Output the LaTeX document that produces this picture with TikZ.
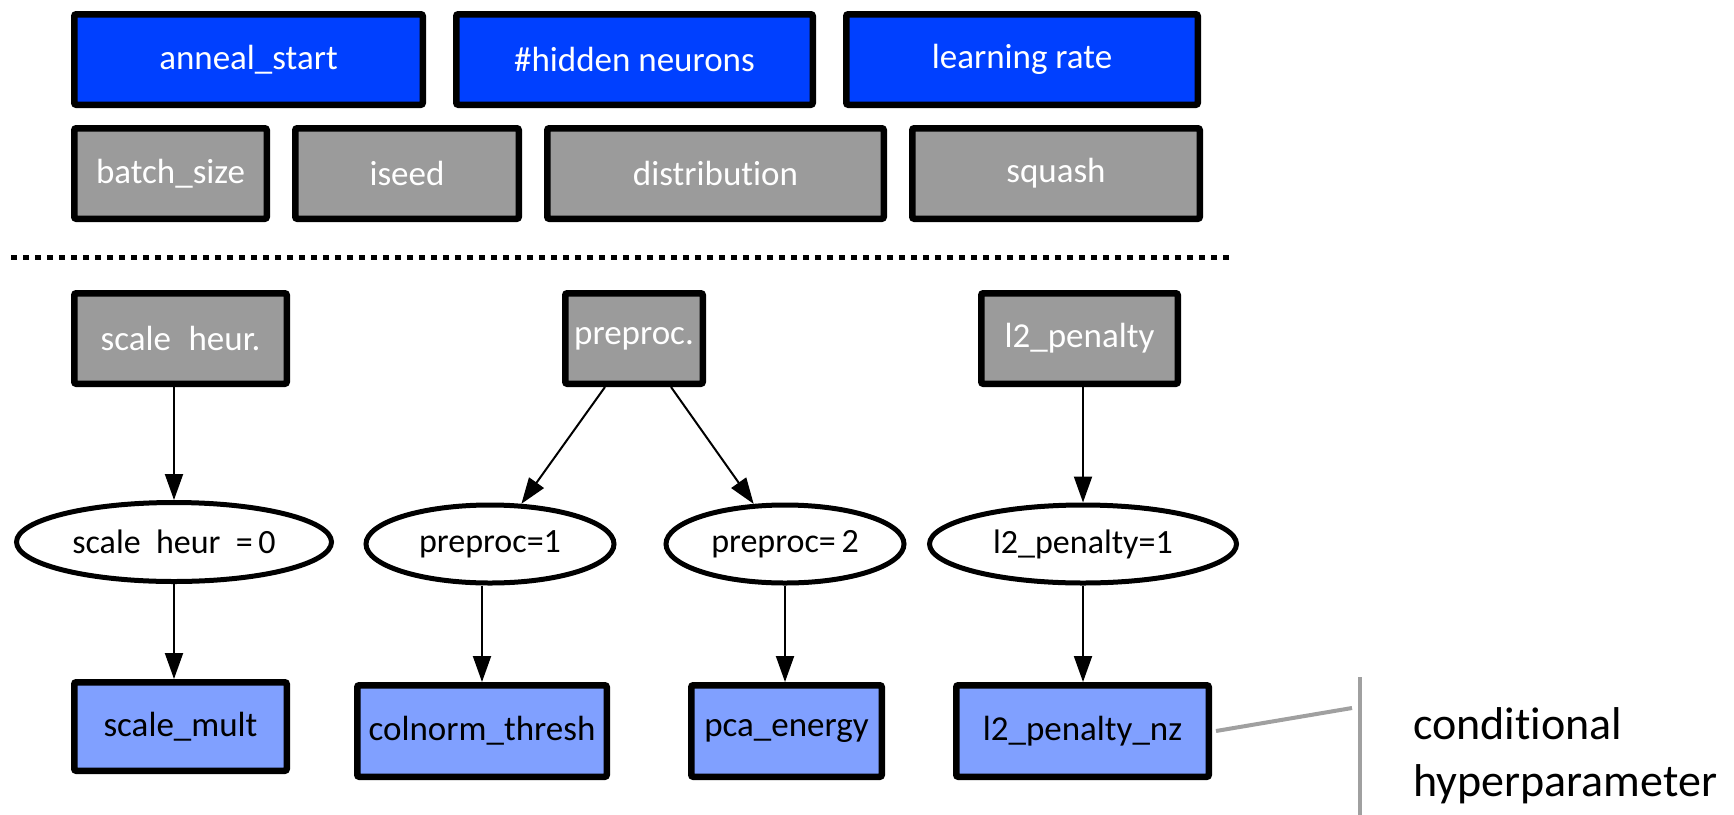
\documentclass[tikz,border=0pt]{standalone}
\usepackage{fontspec}
\setmainfont{Carlito}[Ligatures=NoCommon]
\usetikzlibrary{shapes.geometric,arrows.meta}
\definecolor{pblue}{HTML}{0040FF}
\definecolor{pgray}{HTML}{9B9B9B}
\definecolor{plight}{HTML}{80A0FF}
\definecolor{lgray}{HTML}{A0A0A0}
\begin{document}
\begin{tikzpicture}[x=1pt,y=-1pt,
  boxbase/.style={draw=black,line width=6.5pt,rounded corners=2pt,inner sep=0pt,font=\fontsize{35}{40}\selectfont},
  bluebox/.style={boxbase,fill=pblue,text=white},
  graybox/.style={boxbase,fill=pgray,text=white},
  lightbox/.style={boxbase,fill=plight,text=black},
  condell/.style={ellipse,draw=black,line width=5pt,fill=white,inner sep=0pt,font=\fontsize{34}{40}\selectfont},
  arr/.style={line width=2pt,-{Triangle[length=26pt,width=18pt]}},
  grayline/.style={draw=lgray,line width=4pt}]
\useasboundingbox (0,0) rectangle (1734,814);
% top row
\node[bluebox,minimum width=348.5pt,minimum height=90.5pt] (an) at (248.5,59.5) {anneal\_start};
\node[bluebox,minimum width=356.5pt,minimum height=90.5pt] (hn) at (634.5,59.5) {\#hidden neurons};
\node[bluebox,minimum width=351.5pt,minimum height=90.5pt] (lr) at (1022,59.5) {learning rate};
% second row
\node[graybox,minimum width=192.5pt,minimum height=90.5pt] (bs) at (170.5,173.5) {batch\_size};
\node[graybox,minimum width=223.5pt,minimum height=90.5pt] (is) at (407,173.5) {iseed};
\node[graybox,minimum width=336.5pt,minimum height=90.5pt] (di) at (715.5,173.5) {distribution};
\node[graybox,minimum width=287.5pt,minimum height=90.5pt] (sq) at (1056,173.5) {squash};
% dotted separator
\coordinate (d1) at (11,257);
\coordinate (d2) at (1233,257);
\draw[line width=5pt,dash pattern=on 6pt off 6pt] (d1) -- (d2);
% middle row
\node[graybox,minimum width=212.5pt,minimum height=90.5pt] (sh) at (180.5,338.5) {scale\hspace{0.5em}heur.};
\node[graybox,minimum width=137.5pt,minimum height=90.5pt] (pp) at (634,338.5) {preproc.};
\node[graybox,minimum width=196.5pt,minimum height=90.5pt] (lp) at (1079.5,338.5) {l2\_penalty};
% ellipses
\node[condell,minimum width=315pt,minimum height=79pt] (e0) at (174,542) {scale\hspace{0.45em}heur\hspace{0.45em}=\,0};
\node[condell,minimum width=248pt,minimum height=78pt] (p1) at (490,544) {preproc=1};
\node[condell,minimum width=238pt,minimum height=78pt] (p2) at (785,544) {preproc=\,2};
\node[condell,minimum width=307pt,minimum height=78pt] (le) at (1083,544) {l2\_penalty=1};
% bottom row
\node[lightbox,minimum width=212.5pt,minimum height=88.5pt] (sm) at (180.5,726.5) {scale\_mult};
\node[lightbox,minimum width=249.5pt,minimum height=91.5pt] (cn) at (482,731) {colnorm\_thresh};
\node[lightbox,minimum width=190.5pt,minimum height=91.5pt] (pe) at (786.5,731) {pca\_energy};
\node[lightbox,minimum width=252.5pt,minimum height=91.5pt] (nz) at (1082.5,731) {l2\_penalty\_nz};
% arrows
\draw[arr] (sh.south -| e0.north) -- (e0.north);
\draw[arr] ([xshift=-29pt]pp.south) -- (p1.52);
\draw[arr] ([xshift=37pt]pp.south) -- (p2.128);
\draw[arr] (lp.south -| le.north) -- (le.north);
\draw[arr] (e0.south) -- (e0.south |- sm.north);
\draw[arr] (p1.south -| cn.north) -- (cn.north);
\draw[arr] (p2.south) -- (p2.south |- pe.north);
\draw[arr] (le.south) -- (le.south |- nz.north);
% annotation
\coordinate (g1) at (1352,708);
\coordinate (v1) at (1360,677);
\coordinate (v2) at (1360,816);
\draw[grayline] ([xshift=4pt]nz.east) -- (g1);
\draw[grayline] (v1) -- (v2);
\node[anchor=base west,align=left,inner sep=0pt,font=\fontsize{46}{57}\selectfont] (ct) at (1413,796) {conditional\\hyperparameter};
\end{tikzpicture}
\end{document}
